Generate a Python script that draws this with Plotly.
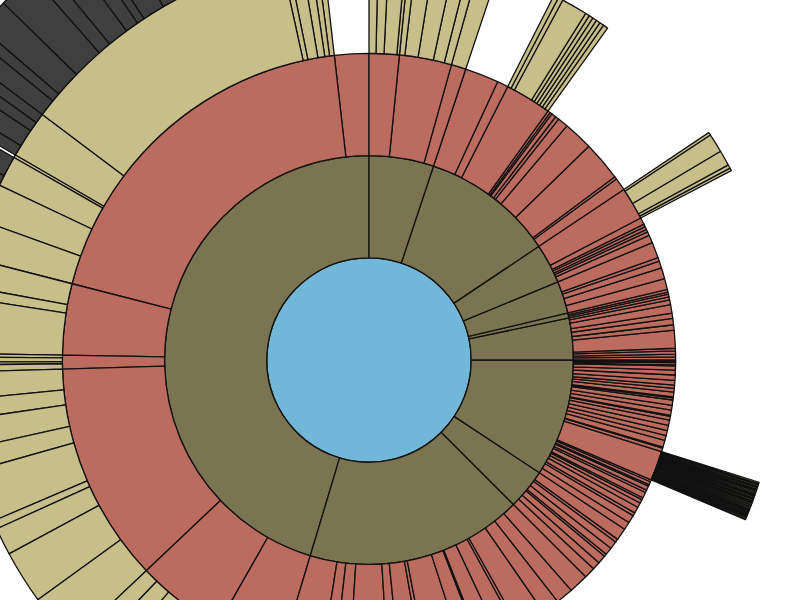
import plotly.graph_objects as go

# fill colour for each ring, centre outwards
DEPTH_COLORS = ["#72b7d7", "#7a7450", "#bc6c5e", "#c7be8a", "#3f3f3f"]

# First-ring sectors, read clockwise from 12 o'clock.
# Inside a sector: a number is a leaf slice, a list holds the next ring's slices.
sector_a = [[1.3, 1.5, 2.4, 0.5], [1.0, 2.5, 2.9, 2.1, 1.4], [2.8]]
sector_b = [6.4, 2.1, [0.7, 0.7, 3.7, 0.6, 0.6, 0.6, 0.6, 0.6, 0.7],
            0.5, 0.4, 0.9, 0.7, 2.0, 5.6, 7.5, 0.5, 2.4]
sector_c = [[0.4, 2.7, 2.2, 0.5, 0.4], 1.3, 0.5, 0.6, 0.5, 0.7, 1.5]
sector_d = [3.0, 0.7, 1.3, 2.1, 2.1]
sector_e = [0.5, 0.4, 0.5]
sector_f = [0.6, 0.9, 1.6, 1.0, 1.2, 1.0, 3.4, 0.5, 0.6, 0.5, 0.6]
g_fan = [0.2, 0.2, 0.2, 0.2, 0.2, 0.15, 0.2, 0.2, 0.2, 0.15, 0.2, 0.2, 0.15, 0.1, 0.2, 0.2,
         0.15, 0.2, 0.1, 0.2, 0.15, 0.2, 0.2, 0.1, 0.15, 0.2, 0.2, 0.15, 0.1, 0.2, 0.2, 0.15]
sector_g = [0.3, 0.2, 0.4, 0.2, 0.8, 0.9, 1.0, 0.9, 0.6, 0.7, 0.9, 0.2, 0.4, 1.0, 0.9, 1.0,
            0.2, 0.7, 1.0, 1.0, 1.0, 0.9, 1.3, 0.2, 0.7, g_fan,
            0.4, 0.6, 0.3, 0.8, 0.5, 1.1, 0.4, 0.7, 0.9, 1.2, 0.6, 1.5, 1.5]
sector_h = [2.3, 0.6, 1.5, 1.4, 0.5, 1.6, 1.5, 2.1]
sector_i = [3.7, 3.3, 3.3, 5.4, 0.6, 3.5, 3.7, 0.3, 3.4, 7.0, 0.8, 4.3, 2.1, 7.3, 2.8, 2.5, 7.7]
j_outer = [2.4, 1.3, 3.7, 4.4, 1.9, 3.0, 1.9, 1.1, 3.2, 3.2, 5.0, 5.0, 4.6]
sector_j = [[5.5, 7.5], [11.1, 3.0, 2.8], [7.5, 7.6, 3.9, 1.2, 7.5, 3.2, 4.1, 2.8, 3.9],
            [1.0, 0.4, 0.7, 0.5], [7.9, 1.6, 4.0],
            [5.4, 5.5, [1.5, 2.9], 0.4, [1.5, 2.5, 1.4, 1.4], j_outer, 0.9, 1.9, 1.3, 0.9, 0.9],
            6.5]

SECTORS = [sector_a, sector_b, sector_c, sector_d, sector_e,
           sector_f, sector_g, sector_h, sector_i, sector_j]

REVERSE = True  # plotly lays slices out counterclockwise

ids, parents, values, colors = ["root"], [""], [0], [DEPTH_COLORS[0]]


def add(node, pid, depth, key):
    nid = f"{pid}/{key}"
    ids.append(nid)
    parents.append(pid)
    colors.append(DEPTH_COLORS[depth])
    if isinstance(node, list):
        values.append(0)
        kids = node[::-1] if REVERSE else node
        for k, child in enumerate(kids):
            add(child, nid, depth + 1, k)
    else:
        values.append(node)


for n, sec in enumerate(SECTORS[::-1] if REVERSE else SECTORS):
    add(sec, "root", 1, n)

# the reference shows only part of a big wheel: centre at (369, 360), radius ~511
CX, CY, R = 369, 360, 511

fig = go.Figure(go.Sunburst(
    ids=ids, parents=parents, values=values, branchvalues="remainder",
    labels=[""] * len(ids),
    sort=False, rotation=90, textinfo="none", hoverinfo="skip",
    leaf=dict(opacity=1),
    marker=dict(colors=colors, line=dict(color="#111111", width=1.3)),
))
fig.update_layout(width=2 * R, height=2 * R, margin=dict(l=0, r=0, t=0, b=0),
                  paper_bgcolor="white", showlegend=False)

# push the wheel up/left so only the visible window of it is on the page
shift = ("var gd=document.getElementById('{plot_id}');"
         "document.documentElement.style.overflow='hidden';"
         "document.body.style.margin='0';document.body.style.overflow='hidden';"
         "gd.style.position='absolute';"
         f"gd.style.left='{CX - R}px';gd.style.top='{CY - R}px';")

fig.write_html("out.html", post_script=shift)
